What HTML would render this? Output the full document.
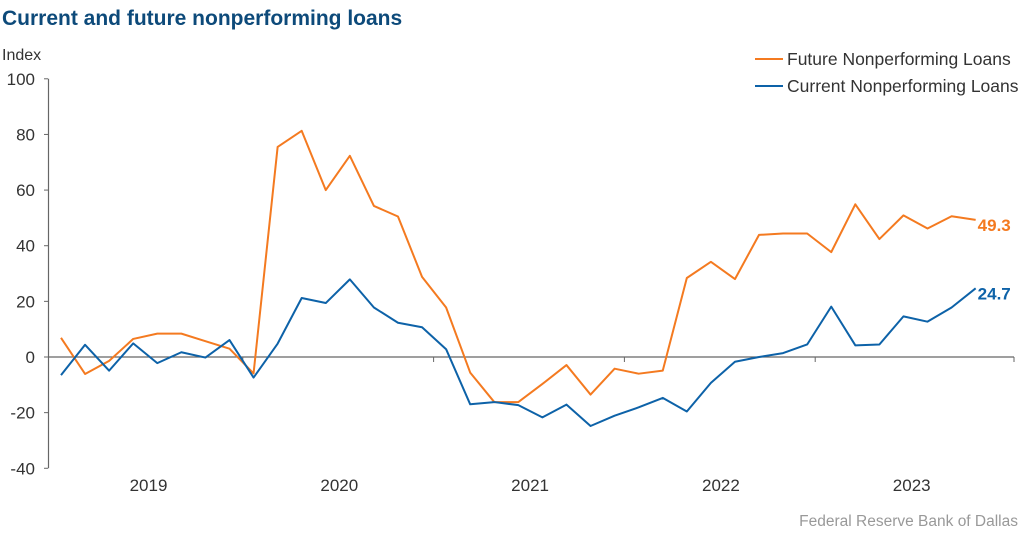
<!DOCTYPE html>
<html><head><meta charset="utf-8"><style>
body{margin:0;background:#fff;font-family:"Liberation Sans",Arial,sans-serif}
svg text{font-family:"Liberation Sans",Arial,sans-serif}
</style></head><body>
<svg id="chart" width="1029" height="536" xmlns="http://www.w3.org/2000/svg">
<text x="2" y="25" font-size="21" font-weight="bold" fill="#0d4a7a">Current and future nonperforming loans</text>
<text x="2" y="60" font-size="16" fill="#333">Index</text>
<g id="axes"></g>
<g id="series"></g>
<g>
<line x1="755" y1="59" x2="783" y2="59" stroke="#f47a20" stroke-width="2"/>
<text x="787" y="65" font-size="17.5" fill="#333">Future Nonperforming Loans</text>
<line x1="755" y1="86" x2="783" y2="86" stroke="#0d62a8" stroke-width="2"/>
<text x="787" y="92" font-size="17.5" fill="#333">Current Nonperforming Loans</text>
</g>
<text x="1018" y="526" font-size="15.5" fill="#999" text-anchor="end">Federal Reserve Bank of Dallas</text>
</svg>
<script>
const future=[6.9,-6.1,-1.4,6.5,8.4,8.4,5.7,3.0,-5.9,75.5,81.3,60,72.3,54.3,50.5,28.8,17.8,-5.6,-16.2,-16.2,-9.7,-2.9,-13.5,-4.2,-6,-4.9,28.4,34.2,28,43.9,44.4,44.4,37.7,54.9,42.4,50.9,46.2,50.6,49.3];
const current=[-6.5,4.4,-4.9,4.9,-2.2,1.7,-0.2,6.1,-7.4,4.8,21.2,19.4,27.9,17.8,12.3,10.7,2.8,-17,-16.2,-17.3,-21.7,-17.1,-24.8,-21.1,-18.1,-14.7,-19.6,-9.3,-1.7,0,1.4,4.5,18.1,4.2,4.5,14.6,12.7,17.8,24.7];
const yTicks=[100,80,60,40,20,0,-20,-40];
const years=["2019","2020","2021","2022","2023"];
const NS="http://www.w3.org/2000/svg";
const y=v=>357-v*2.782;
const x=i=>61+i*24.07;
function mk(tag,attrs,parent){const e=document.createElementNS(NS,tag);for(const k in attrs)e.setAttribute(k,attrs[k]);parent.appendChild(e);return e;}
const ax=document.getElementById('axes');
const yl=mk('line',{x1:48.5,y1:y(100),x2:48.5,y2:y(-40),stroke:'#666','stroke-width':1.2},ax);


yTicks.forEach(t=>{
 mk('line',{x1:44,y1:y(t),x2:48,y2:y(t),stroke:'#666'},ax);
 const tx=mk('text',{x:35,y:y(t)+6,'font-size':17,fill:'#333','text-anchor':'end'},ax);
 tx.textContent=t;
 
 
});
const xl=mk('line',{x1:48,y1:y(0),x2:1014,y2:y(0),stroke:'#666','stroke-width':1.2},ax);


years.forEach((yr,k)=>{
 const b=52+k*190.8;
 if(k>0)mk('line',{x1:b,y1:y(0),x2:b,y2:y(0)+5,stroke:'#666'},ax);
 const tx=mk('text',{x:b+96.5,y:491,'font-size':17,fill:'#333','text-anchor':'middle'},ax);
 tx.textContent=yr;
 
 
});
mk('line',{x1:1014,y1:y(0),x2:1014,y2:y(0)+5,stroke:'#666'},ax);
const sg=document.getElementById('series');
function line(arr,col,name){
 const p=mk('polyline',{points:arr.map((v,i)=>x(i)+','+y(v)).join(' '),fill:'none',stroke:col,'stroke-width':2,'stroke-linejoin':'round'},sg);
 
 
 const n=arr.length-1;
 const t=mk('text',{x:x(n)+2,y:y(arr[n])+11,'font-size':17,'font-weight':'bold',fill:col},sg);
 t.textContent=arr[n].toFixed(1);
 
 
}
line(future,'#f47a20','future-line');
line(current,'#0d62a8','current-line');
</script>
</body></html>
